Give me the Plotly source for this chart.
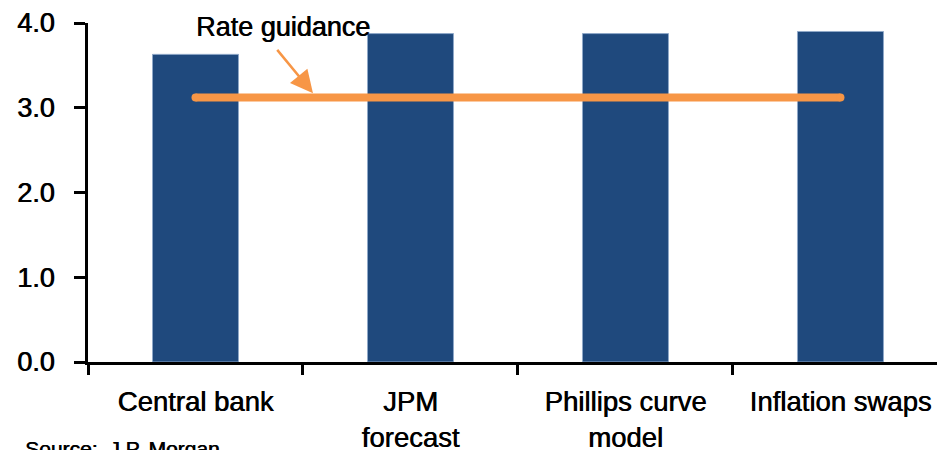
import plotly.graph_objects as go

categories = ["Central bank", "JPM<br>forecast", "Phillips curve<br>model", "Inflation swaps"]
estimates = [3.63, 3.875, 3.875, 3.90]
rate_guidance = [3.12, 3.12, 3.12, 3.12]
y_ticks = [0, 1, 2, 3, 4]

FONT = "Liberation Sans, Arial, sans-serif"
HEAVY = "0.6px 0 0 #000000"
BLUE = "#1F497D"
ORANGE = "#F79646"

fig = go.Figure()
fig.add_trace(go.Bar(
    x=categories, y=estimates, width=0.4,
    marker=dict(color=BLUE, line=dict(color="#8FA8C8", width=1)),
    showlegend=False,
))
fig.add_trace(go.Scatter(
    x=categories, y=rate_guidance, mode="lines",
    line=dict(color=ORANGE, width=8),
    showlegend=False,
))
# round ends of the guidance line
fig.add_trace(go.Scatter(
    x=[categories[0], categories[-1]], y=[rate_guidance[0], rate_guidance[-1]],
    mode="markers", marker=dict(color=ORANGE, size=8, line=dict(width=0)),
    showlegend=False,
))

fig.add_annotation(
    text="Rate guidance", xref="paper", yref="y", x=0.2297, y=3.955,
    xanchor="center", yanchor="middle",
    showarrow=False, font=dict(family=FONT, size=27, color="#000000", shadow=HEAVY),
)
fig.add_annotation(
    text="", xref="paper", yref="y", x=0.265, y=3.17,
    showarrow=True, ax=-37, ay=-45, arrowcolor=ORANGE,
    arrowhead=2, arrowsize=1.8, arrowwidth=2.5, standoff=0,
)
fig.add_annotation(
    text="Source:  J.P. Morgan", xref="paper", yref="paper",
    x=-0.077, y=-0.215, xanchor="left", yanchor="top", showarrow=False,
    font=dict(family=FONT, size=21, color="#000000", shadow=HEAVY),
)

fig.update_layout(
    width=937, height=450,
    margin=dict(l=88, r=0, t=23, b=88, autoexpand=False),
    paper_bgcolor="white", plot_bgcolor="white",
    font=dict(family=FONT, color="#000000"),
    bargap=0.6,
)
fig.update_xaxes(
    range=[-0.5, 3.449], showgrid=False, zeroline=False, automargin=False,
    showline=True, linecolor="#000000", linewidth=3,
    ticks="outside", tickson="boundaries", ticklen=10, tickwidth=3, tickcolor="#000000",
    tickfont=dict(family=FONT, size=27.5, color="#000000", shadow=HEAVY),
    ticklabelstandoff=13,
)
fig.update_yaxes(
    range=[0, 4], tickvals=y_ticks, tickformat=".1f", showgrid=False, zeroline=False,
    automargin=False,
    showline=True, linecolor="#000000", linewidth=3,
    ticks="outside", ticklen=11, tickwidth=3, tickcolor="#000000",
    tickfont=dict(family=FONT, size=27, color="#000000", shadow=HEAVY),
    ticklabelstandoff=14,
)

fig.write_html("out.html")
